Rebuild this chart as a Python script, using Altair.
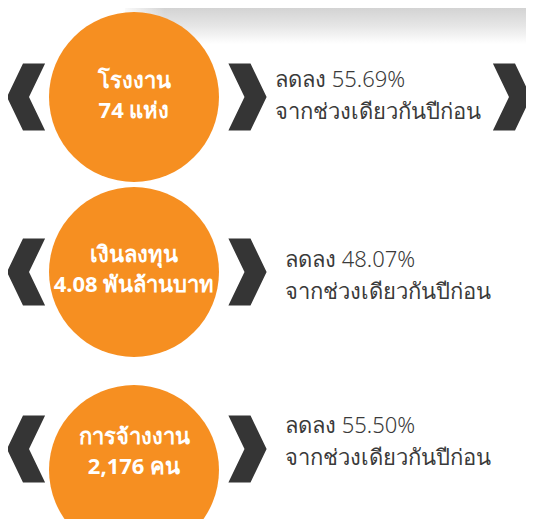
import altair as alt
import pandas as pd

# ---- data -------------------------------------------------------------
labels = ["โรงงาน", "เงินลงทุน", "การจ้างงาน"]
amounts = ["74 แห่ง", "4.08 พันล้านบาท", "2,176 คน"]
changes = ["ลดลง 55.69%", "ลดลง 48.07%", "ลดลง 55.50%"]
compare = ["จากช่วงเดียวกันปีก่อน", "จากช่วงเดียวกันปีก่อน", "จากช่วงเดียวกันปีก่อน"]

# ---- layout (page pixel units) -------------------------------------------
row_y = [97, 272, 449]
circle_y = [97, 272, 470]
circle_text_y = [96, 270, 452]
right_text_y = [96, 276, 442]
right_text_x = [275, 285, 285]
circle_x = 134
circle_d = 170

ORANGE = "#F68F21"
DARK = "#353535"

rows = pd.DataFrame({
    "label": labels,
    "amount": amounts,
    "change": changes,
    "compare": compare,
    "cx": [circle_x] * 3,
    "cy": circle_y,
    "ty": circle_text_y,
    "ry": right_text_y,
    "rx": right_text_x,
    "row_y": row_y,
    "lx": [26] * 3,
    "chx": [247.5] * 3,
})
far = pd.DataFrame({"x": [512], "y": [row_y[0]]})
band = pd.DataFrame({"x": [125], "x2": [534], "y": [8], "y2": [44]})
fade = pd.DataFrame({"x": [120], "x2": [165], "y": [8], "y2": [44]})

W, H = 518, 511
xs = alt.Scale(domain=[8, 8 + W], range=[0, W], nice=False, zero=False)
ys = alt.Scale(domain=[8, 8 + H], range=[0, H], nice=False, zero=False)


def X(f):
    return alt.X(f, type="quantitative", scale=xs, axis=None)


def Y(f):
    return alt.Y(f, type="quantitative", scale=ys, axis=None)


band_layer = alt.Chart(band).mark_rect(
    color=alt.Gradient(
        gradient="linear", x1=0, y1=0, x2=0, y2=1,
        stops=[alt.GradientStop(color="#d3d3d3", offset=0),
               alt.GradientStop(color="#e6e6e6", offset=0.5),
               alt.GradientStop(color="#ffffff", offset=1)],
    )
).encode(x=X("x"), x2="x2", y=Y("y"), y2="y2")

fade_layer = alt.Chart(fade).mark_rect(
    color=alt.Gradient(
        gradient="linear", x1=0, y1=0, x2=1, y2=0,
        stops=[alt.GradientStop(color="rgba(255,255,255,1)", offset=0),
               alt.GradientStop(color="rgba(255,255,255,0)", offset=1)],
    )
).encode(x=X("x"), x2="x2", y=Y("y"), y2="y2")

circles = alt.Chart(rows).mark_circle(
    size=circle_d ** 2, color=ORANGE, opacity=1
).encode(x=X("cx"), y=Y("cy"))

LEFT = "M0.57,-1 L-0.09,-1 L-0.57,0 L-0.09,1 L0.57,1 L0.09,0 Z"
RIGHT = "M-0.57,-1 L0.09,-1 L0.57,0 L0.09,1 L-0.57,1 L-0.09,0 Z"
CH_SIZE = 67 ** 2

left_ch = alt.Chart(rows).mark_point(
    shape=LEFT, size=CH_SIZE, filled=True, color=DARK, opacity=1, strokeWidth=0
).encode(x=X("lx"), y=Y("row_y"))

right_ch = alt.Chart(rows).mark_point(
    shape=RIGHT, size=CH_SIZE, filled=True, color=DARK, opacity=1, strokeWidth=0
).encode(x=X("chx"), y=Y("row_y"))

far_ch = alt.Chart(far).mark_point(
    shape=RIGHT, size=CH_SIZE, filled=True, color=DARK, opacity=1, strokeWidth=0
).encode(x=X("x"), y=Y("y"))

FONT = "Noto Sans"

t_label = alt.Chart(rows).mark_text(
    font=FONT, fontSize=22, fontWeight="bold", color="white",
    align="center", baseline="middle", dy=-15
).encode(x=X("cx"), y=Y("ty"), text="label:N")

t_amount = alt.Chart(rows).mark_text(
    font=FONT, fontSize=22, fontWeight="bold", color="white",
    align="center", baseline="middle", dy=15
).encode(x=X("cx"), y=Y("ty"), text="amount:N")

t_change = alt.Chart(rows).mark_text(
    font=FONT, fontSize=22, fontWeight=300, color="#3a3a3a",
    align="left", baseline="middle", dy=-16
).encode(x=X("rx"), y=Y("ry"), text="change:N")

t_compare = alt.Chart(rows).mark_text(
    font=FONT, fontSize=22, fontWeight=300, color="#3a3a3a",
    align="left", baseline="middle", dy=16
).encode(x=X("rx"), y=Y("ry"), text="compare:N")

chart = alt.layer(
    band_layer, fade_layer, circles, left_ch, right_ch, far_ch,
    t_label, t_amount, t_change, t_compare
).properties(
    width=W, height=H, padding=0, autosize=alt.AutoSizeParams(type="none"),
    background="white"
).configure_view(stroke=None)

chart.save("out.html", embed_options={"renderer": "svg", "actions": False})
